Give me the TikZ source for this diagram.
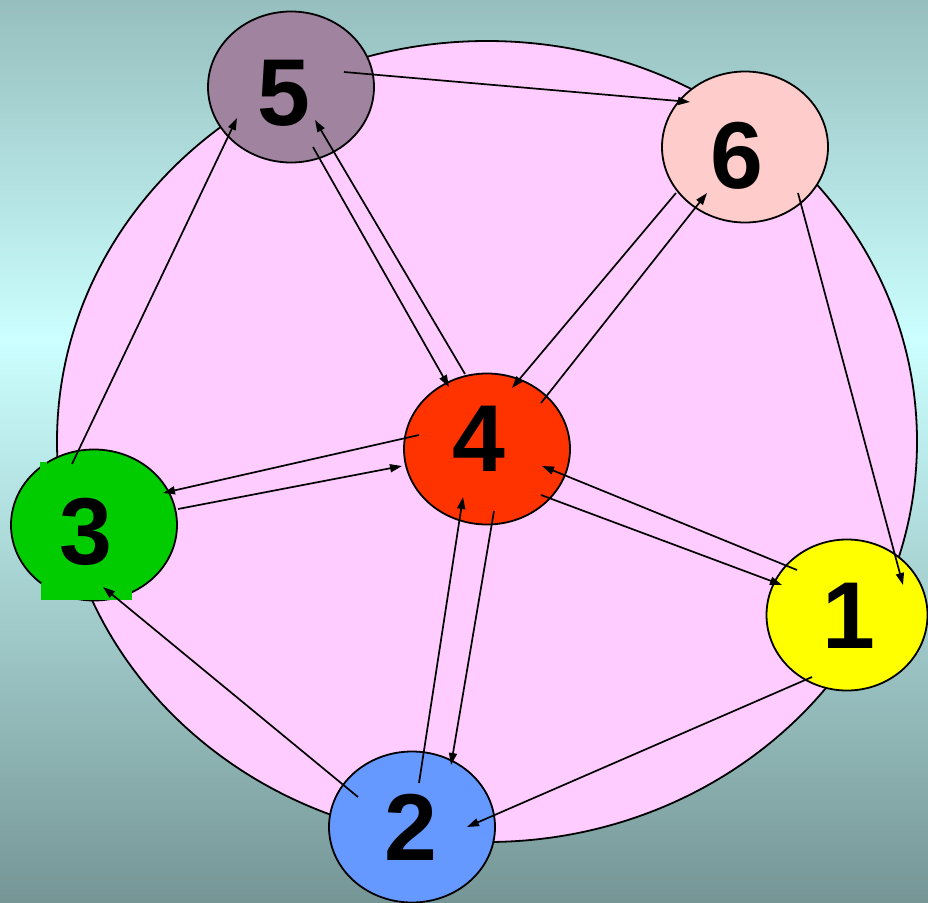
\documentclass[tikz,border=0pt]{standalone}
\usepackage{fontspec}
\setmainfont{Liberation Sans}
\usetikzlibrary{shapes.geometric,calc,arrows.meta}

\definecolor{bgtop}{RGB}{150,190,190}
\definecolor{bgmid}{RGB}{204,255,255}
\definecolor{bgbot}{RGB}{118,150,150}
\definecolor{ring}{RGB}{255,204,255}
\definecolor{cone}{RGB}{255,255,0}
\definecolor{ctwo}{RGB}{102,153,255}
\definecolor{cthree}{RGB}{0,204,0}
\definecolor{cfour}{RGB}{255,51,0}
\definecolor{cfive}{RGB}{160,132,159}
\definecolor{csix}{RGB}{255,204,204}

\tikzset{
  vert/.style={draw, ellipse, line width=1.8pt, minimum width=166pt, minimum height=151pt, inner sep=0pt},
  num/.style={font=\fontsize{95}{95}\selectfont\bfseries, inner sep=0pt},
  link/.style={->, line width=1.7pt},
  >={Triangle[length=12pt,width=8pt]}
}

\begin{document}
\begin{tikzpicture}[x=1pt, y=-1pt]

% Background
\useasboundingbox (0,0) rectangle (928,902);
\shade[top color=bgtop, bottom color=bgmid] (0,0) rectangle (928,340);
\shade[top color=bgmid, bottom color=bgbot] (0,340) rectangle (928,902);

% Big ring
\draw[fill=ring, line width=1.8pt] (487,441.5) ellipse [x radius=430pt, y radius=400.5pt];

% Vertices
\node[vert, fill=cfive] (n5) at (291,87) {};
\node[vert, fill=csix] (n6) at (745,147) {};
\node[vert, fill=cfour] (n4) at (487,449) {};
\node[vert, fill=cthree] (n3) at (94,525) {};
\node[vert, fill=cone, minimum width=161pt] (n1) at (847,615) {};
\node[vert, fill=ctwo] (n2) at (412,827) {};

% Green patches
\fill[cthree] (41,583) rectangle (132,600);
\fill[cthree] (40,462) rectangle (47,470);

% Edges
\draw[link] ($(n5)+(53,-15)$) -- ($(n6)+(-55,-45)$);
\draw[link] ($(n4)+(-22,-75)$) -- ($(n5)+(24,33)$);
\draw[link] ($(n5)+(22,60)$) -- ($(n4)+(-38,-62)$);
\draw[link] ($(n3)+(-22,-61)$) -- ($(n5)+(-54,31)$);
\draw[link] ($(n6)+(-69,46)$) -- ($(n4)+(25,-61)$);
\draw[link] ($(n4)+(54,-46)$) -- ($(n6)+(-38,46)$);
\draw[link] ($(n6)+(53,46)$) -- ($(n1)+(56,-30)$);
\draw[link] ($(n4)+(-68,-14)$) -- ($(n3)+(69,-32)$);
\draw[link] ($(n3)+(84,-16)$) -- ($(n4)+(-85,17)$);
\draw[link] ($(n1)+(-50,-45)$) -- ($(n4)+(55,17)$);
\draw[link] ($(n4)+(54,46)$) -- ($(n1)+(-65,-30)$);
\draw[link] ($(n1)+(-35,62)$) -- ($(n2)+(55,0)$);
\draw[link] ($(n2)+(-54,-30)$) -- ($(n3)+(9,62)$);
\draw[link] ($(n2)+(7,-44)$) -- ($(n4)+(-24,48)$);
\draw[link] ($(n4)+(7,62)$) -- ($(n2)+(39,-62)$);

% Labels
\node[num] (l5) at (284,93) {5};
\node[num] (l6) at (737,156) {6};
\node[num] (l4) at (479,439) {4};
\node[num] (l3) at (86,532) {3};
\node[num] (l1) at (849,616) {1};
\node[num] (l2) at (411,827) {2};

\end{tikzpicture}
\end{document}
